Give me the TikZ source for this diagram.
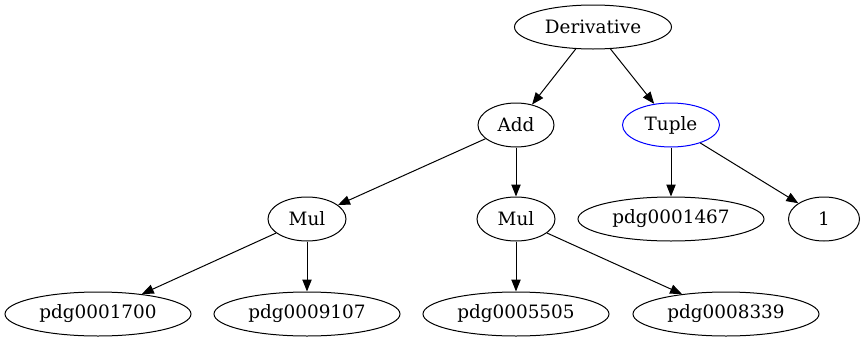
\documentclass[tikz,border=0pt]{standalone}
\usepackage{fontspec}
\setmainfont{DejaVu Serif}
\usetikzlibrary{shapes.geometric,arrows.meta}
\begin{document}
\begin{tikzpicture}[
		x={(0.75bp,0)}, y={(0,-0.75bp)},
		nodo/.style={ellipse, draw=black, line width=0.75bp, inner sep=0pt,
			minimum height=33bp, font=\fontsize{13.8bp}{16bp}\selectfont},
		nodotupla/.style={nodo, draw=blue},
		arco/.style={line width=0.75bp, -{Triangle[length=9bp, width=7bp]}},
		]
		\useasboundingbox (0,0) rectangle (866,347);
		
		%% radice e primo livello
		\node[nodo, minimum width=117.75bp] (deriv) at (593,27) {Derivative};
		\node[nodo, minimum width=57bp] (add) at (516,125) {Add};
		\node[nodotupla, minimum width=72.75bp] (tuple) at (671,125) {Tuple};
		%% secondo livello
		\node[nodo, minimum width=58.5bp] (mulA) at (307,219) {Mul};
		\node[nodo, minimum width=58.5bp] (mulB) at (516,219) {Mul};
		\node[nodo, minimum width=139.5bp] (p1467) at (671,219) {pdg0001467};
		\node[nodo, minimum width=53.25bp] (uno) at (824,219) {1};
		%% foglie
		\node[nodo, minimum width=139.5bp] (p1700) at (98,314) {pdg0001700};
		\node[nodo, minimum width=139.5bp] (p9107) at (307,314) {pdg0009107};
		\node[nodo, minimum width=139.5bp] (p5505) at (516,314) {pdg0005505};
		\node[nodo, minimum width=139.5bp] (p8339) at (726,314) {pdg0008339};
		
		%% archi
		\foreach \a/\b in {deriv/add, deriv/tuple, add/mulA, add/mulB,
			tuple/p1467, tuple/uno, mulA/p1700, mulA/p9107,
			mulB/p5505, mulB/p8339}
		\draw[arco] (\a) -- (\b);
		
\end{tikzpicture}
\end{document}
